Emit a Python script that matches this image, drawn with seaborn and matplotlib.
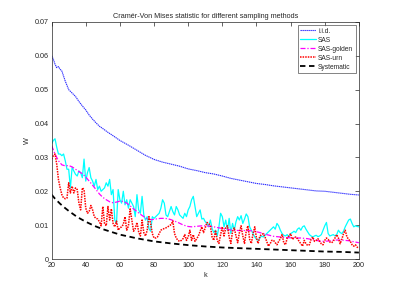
import numpy as np
import pandas as pd
import matplotlib
matplotlib.use("Agg")
import matplotlib.pyplot as plt
import seaborn as sns

# ---------------- data ----------------
k_iid = [20, 21, 22, 23, 24, 25, 26, 27, 28, 30, 32, 34, 36, 38, 40, 42, 44, 46, 48, 50,
         53, 56, 60, 65, 70, 75, 80, 85, 90, 95, 100, 105, 110, 115, 120, 125, 130, 135,
         140, 145, 150, 155, 160, 165, 170, 175, 180, 185, 190, 195, 200]
w_iid = [0.0600, 0.0590, 0.0575, 0.0565, 0.0568, 0.0560, 0.0555, 0.0540, 0.0525, 0.0500,
         0.0490, 0.0480, 0.0465, 0.0452, 0.0440, 0.0425, 0.0413, 0.0402, 0.0392, 0.0385,
         0.0374, 0.0364, 0.0350, 0.0336, 0.0321, 0.0306, 0.0294, 0.0286, 0.0280, 0.0274,
         0.0266, 0.0261, 0.0255, 0.0251, 0.0245, 0.0238, 0.0233, 0.0228, 0.0223, 0.0220,
         0.0216, 0.0213, 0.0210, 0.0207, 0.0204, 0.0201, 0.0200, 0.0197, 0.0194, 0.0191, 0.0189]

k_sas = list(range(20, 201))
w_sas = [0.0340, 0.0350, 0.0355, 0.0330, 0.0310, 0.0310, 0.0305, 0.0310, 0.0290, 0.0265,
         0.0265, 0.0210, 0.0270, 0.0260, 0.0250, 0.0245, 0.0260, 0.0255, 0.0240, 0.0295,
         0.0230, 0.0255, 0.0270, 0.0240, 0.0230, 0.0215, 0.0235, 0.0205, 0.0215, 0.0200,
         0.0205, 0.0210, 0.0225, 0.0215, 0.0235, 0.0190, 0.0205, 0.0115, 0.0105, 0.0205,
         0.0175, 0.0165, 0.0200, 0.0160, 0.0175, 0.0150, 0.0175, 0.0165, 0.0155, 0.0125,
         0.0190, 0.0145, 0.0135, 0.0185, 0.0130, 0.0115, 0.0125, 0.0090, 0.0082, 0.0125,
         0.0120, 0.0125, 0.0130, 0.0135, 0.0150, 0.0175, 0.0165, 0.0130, 0.0125, 0.0140,
         0.0155, 0.0140, 0.0130, 0.0155, 0.0145, 0.0130, 0.0125, 0.0120, 0.0135, 0.0125,
         0.0145, 0.0155, 0.0175, 0.0185, 0.0155, 0.0125, 0.0135, 0.0145, 0.0118, 0.0120,
         0.0110, 0.0105, 0.0095, 0.0115, 0.0090, 0.0078, 0.0085, 0.0068, 0.0095, 0.0135,
         0.0125, 0.0095, 0.0115, 0.0085, 0.0120, 0.0075, 0.0105, 0.0085, 0.0110, 0.0125,
         0.0115, 0.0128, 0.0105, 0.0118, 0.0133, 0.0125, 0.0095, 0.0085, 0.0075, 0.0065,
         0.0058, 0.0055, 0.0062, 0.0068, 0.0065, 0.0070, 0.0075, 0.0080, 0.0085, 0.0090,
         0.0095, 0.0088, 0.0105, 0.0098, 0.0085, 0.0075, 0.0070, 0.0068, 0.0072, 0.0065,
         0.0075, 0.0078, 0.0082, 0.0078, 0.0088, 0.0092, 0.0085, 0.0095, 0.0098, 0.0088,
         0.0080, 0.0072, 0.0068, 0.0065, 0.0068, 0.0070, 0.0066, 0.0068, 0.0072, 0.0085,
         0.0098, 0.0108, 0.0075, 0.0068, 0.0070, 0.0072, 0.0068, 0.0072, 0.0085, 0.0078,
         0.0075, 0.0082, 0.0095, 0.0105, 0.0115, 0.0118, 0.0105, 0.0095, 0.0098, 0.0096,
         0.0095]

k_golden = [20, 22, 24, 26, 28, 30, 32, 34, 36, 38, 40, 42, 44, 46, 48, 50, 52, 54, 56, 58,
            60, 62, 64, 66, 68, 70, 72, 74, 76, 78, 80, 82, 84, 86, 88, 90, 92, 94, 96, 98,
            100, 102, 104, 106, 108, 110, 114, 118, 122, 126, 130, 134, 138, 142, 146, 150,
            154, 158, 162, 166, 170, 174, 178, 182, 186, 190, 194, 198, 200]
w_golden = [0.0335, 0.0310, 0.0290, 0.0278, 0.0275, 0.0276, 0.0272, 0.0265, 0.0258, 0.0252,
            0.0242, 0.0230, 0.0218, 0.0205, 0.0192, 0.0182, 0.0175, 0.0169, 0.0166, 0.0168,
            0.0171, 0.0170, 0.0165, 0.0157, 0.0148, 0.0140, 0.0132, 0.0125, 0.0118, 0.0116,
            0.0117, 0.0119, 0.0120, 0.0120, 0.0119, 0.0116, 0.0112, 0.0108, 0.0103, 0.0099,
            0.0096, 0.0095, 0.0096, 0.0097, 0.0098, 0.0098, 0.0096, 0.0092, 0.0088, 0.0085,
            0.0084, 0.0084, 0.0083, 0.0078, 0.0072, 0.0067, 0.0065, 0.0063, 0.0062, 0.0062,
            0.0060, 0.0056, 0.0052, 0.0053, 0.0056, 0.0056, 0.0054, 0.0050, 0.0048]

k_urn = list(range(20, 201))
w_urn = [0.0295, 0.0305, 0.0310, 0.0280, 0.0235, 0.0210, 0.0190, 0.0180, 0.0178, 0.0180,
         0.0225, 0.0195, 0.0215, 0.0195, 0.0210, 0.0205, 0.0165, 0.0145, 0.0210, 0.0205,
         0.0150, 0.0135, 0.0140, 0.0158, 0.0145, 0.0125, 0.0120, 0.0118, 0.0110, 0.0098,
         0.0155, 0.0105, 0.0098, 0.0155, 0.0115, 0.0148, 0.0105, 0.0095, 0.0112, 0.0085,
         0.0092, 0.0095, 0.0102, 0.0125, 0.0085, 0.0098, 0.0148, 0.0115, 0.0082, 0.0090,
         0.0108, 0.0080, 0.0068, 0.0115, 0.0078, 0.0068, 0.0085, 0.0125, 0.0105, 0.0075,
         0.0062, 0.0062, 0.0065, 0.0075, 0.0085, 0.0088, 0.0090, 0.0092, 0.0095, 0.0098,
         0.0102, 0.0112, 0.0075, 0.0062, 0.0055, 0.0052, 0.0055, 0.0060, 0.0072, 0.0055,
         0.0065, 0.0085, 0.0055, 0.0072, 0.0052, 0.0060, 0.0068, 0.0082, 0.0095, 0.0078,
         0.0092, 0.0108, 0.0105, 0.0098, 0.0065, 0.0055, 0.0085, 0.0055, 0.0046, 0.0072,
         0.0095, 0.0068, 0.0092, 0.0098, 0.0065, 0.0046, 0.0082, 0.0092, 0.0068, 0.0048,
         0.0078, 0.0098, 0.0068, 0.0046, 0.0082, 0.0098, 0.0058, 0.0046, 0.0075, 0.0095,
         0.0062, 0.0046, 0.0068, 0.0072, 0.0075, 0.0065, 0.0052, 0.0038, 0.0045, 0.0055,
         0.0055, 0.0048, 0.0042, 0.0052, 0.0060, 0.0072, 0.0048, 0.0042, 0.0062, 0.0068,
         0.0075, 0.0058, 0.0062, 0.0065, 0.0060, 0.0052, 0.0045, 0.0038, 0.0055, 0.0045,
         0.0040, 0.0042, 0.0058, 0.0065, 0.0052, 0.0055, 0.0060, 0.0052, 0.0045, 0.0042,
         0.0055, 0.0062, 0.0058, 0.0050, 0.0048, 0.0052, 0.0062, 0.0072, 0.0062, 0.0045,
         0.0058, 0.0075, 0.0085, 0.0065, 0.0058, 0.0052, 0.0042, 0.0038, 0.0042, 0.0035,
         0.0032]

k_sys = [20, 22, 25, 28, 30, 35, 40, 45, 50, 55, 60, 70, 80, 90, 100, 110, 120, 130, 140,
         150, 160, 170, 180, 190, 200]
w_sys = [0.0190, 0.0178, 0.0163, 0.0150, 0.0142, 0.0124, 0.0110, 0.0098, 0.0088, 0.0080,
         0.0072, 0.0061, 0.0052, 0.0046, 0.0041, 0.0037, 0.0034, 0.0032, 0.0030, 0.0028,
         0.0026, 0.0024, 0.0022, 0.0021, 0.0019]

labels = ["i.i.d.", "SAS", "SAS-golden", "SAS-urn", "Systematic"]
title = "Cramér-Von Mises statistic for different sampling methods"
xticks = [20, 40, 60, 80, 100, 120, 140, 160, 180, 200]
yticks = [0, 0.01, 0.02, 0.03, 0.04, 0.05, 0.06, 0.07]
ytick_labels = ["0", "0.01", "0.02", "0.03", "0.04", "0.05", "0.06", "0.07"]

# ---------------- plot ----------------
sns.set_style("white")
plt.rcParams["font.family"] = ["Liberation Sans", "DejaVu Sans"]
fs = 5.2

fig = plt.figure(figsize=(3.97, 2.92), dpi=100)
ax = fig.add_axes([0.13, 0.113, 0.774, 0.812])

series = [
    (k_iid, w_iid, labels[0], "#2b2bff", (0, (1.2, 0.6)), 0.8),
    (k_sas, w_sas, labels[1], "#00ffff", "-", 0.9),
    (k_golden, w_golden, labels[2], "#ff00ff", (0, (4, 1.5, 1, 1.5)), 0.9),
    (k_urn, w_urn, labels[3], "#ff0000", (0, (1, 0.7)), 1.1),
    (k_sys, w_sys, labels[4], "black", (0, (3, 2)), 1.3),
]
for kk, ww, lab, col, ls, lw in series:
    df = pd.DataFrame({"k": kk, "W": ww})
    sns.lineplot(data=df, x="k", y="W", ax=ax, color=col, linestyle=ls,
                 linewidth=lw, label=lab)

ax.set_xlim(20, 200)
ax.set_ylim(0, 0.07)
ax.set_xticks(xticks)
ax.set_xticklabels([str(t) for t in xticks], fontsize=fs)
ax.set_yticks(yticks)
ax.set_yticklabels(ytick_labels, fontsize=fs)
ax.set_xlabel("k", fontsize=fs, labelpad=2)
ax.set_ylabel("W", fontsize=fs, labelpad=3)
ax.set_title(title, fontsize=fs, pad=3)

edge = "#262626"
for sp in ax.spines.values():
    sp.set_visible(True)
    sp.set_color(edge)
    sp.set_linewidth(0.5)
ax.tick_params(axis="both", direction="in", length=3, width=0.5, colors=edge,
               labelcolor=edge, top=True, right=True, pad=2)

leg = ax.legend(loc="upper right", fontsize=4.8, frameon=True, fancybox=False,
                handlelength=2.4, handletextpad=0.3, borderpad=0.35,
                labelspacing=0.3, borderaxespad=0.5)
leg.get_frame().set_edgecolor(edge)
leg.get_frame().set_linewidth(0.5)

fig.savefig("out.png", dpi=100)
